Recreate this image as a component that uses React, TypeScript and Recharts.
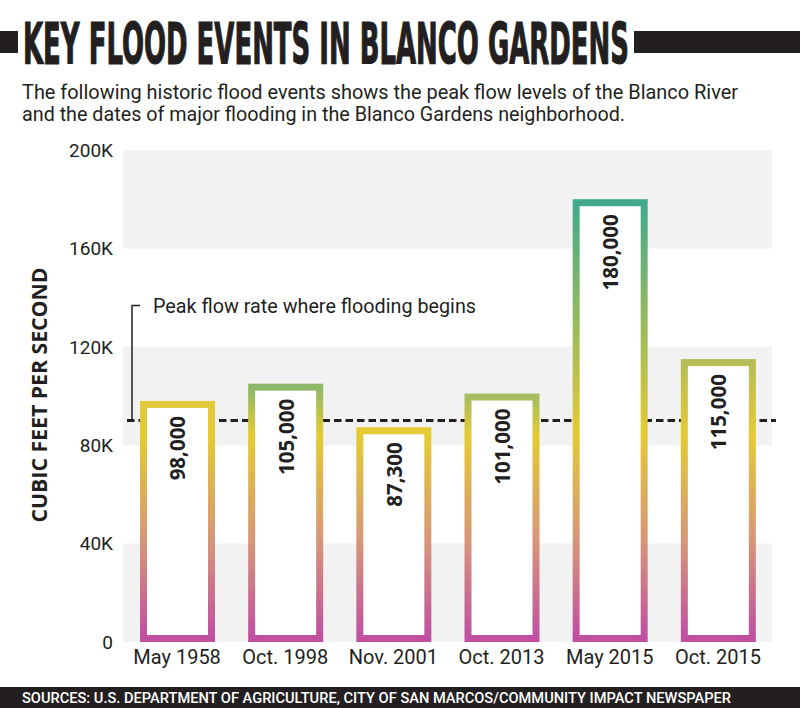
import React from 'react'
import { BarChart, Bar, XAxis, YAxis, ReferenceArea, ReferenceLine, LabelList } from 'recharts'

const events = ['May 1958', 'Oct. 1998', 'Nov. 2001', 'Oct. 2013', 'May 2015', 'Oct. 2015']
const peakFlow = [98000, 105000, 87300, 101000, 180000, 115000]
const yTicks = [0, 40000, 80000, 120000, 160000, 200000]
const floodLevel = 90000
const bandStarts = [0, 80000, 160000]
const bandSize = 40000

// top colour of each outline, the rest of the fade is shared
const TOP_COLORS = ['#e2c93a', '#8db86a', '#e4c935', '#a6bd60', '#43a98c', '#b6bc56']
const YELLOW = '#e5ca33'
const SALMON = '#d6957a'
const MAGENTA = '#c04fa2'
const INK = '#231f20'

const data = events.map((event, i) => ({ event, flow: peakFlow[i] }))

const fmtTick = (v: number) => (v === 0 ? '0' : `${v / 1000}K`)

// squeeze factor for the condensed headline
const TITLE_SCALE = 0.58

function OutlineBar(props: any) {
  const { x, y, width, height, index } = props
  const sw = 7
  if (!height || height < sw) return null
  return (
    <rect
      x={x + sw / 2}
      y={y + sw / 2}
      width={width - sw}
      height={height - sw}
      fill="#fff"
      stroke={`url(#flow-${index})`}
      strokeWidth={sw}
    />
  )
}

function ValueLabel(props: any) {
  const { x, y, width, value } = props
  const cx = x + width / 2
  const ty = y + 15
  return (
    <text
      x={cx}
      y={ty}
      transform={`rotate(-90 ${cx} ${ty})`}
      textAnchor="end"
      dominantBaseline="central"
      fontFamily="'Open Sans', sans-serif"
      fontWeight={700}
      fontSize={20.5}
      fill={INK}
    >
      {Number(value).toLocaleString('en-US')}
    </text>
  )
}

function ThresholdNote(props: any) {
  const vb = props.viewBox || {}
  const x = vb.x ?? 0
  const y = vb.y ?? 0
  return (
    <g>
      <path d={`M${x + 13} ${y - 115} H${x + 5} V${y}`} fill="none" stroke={INK} strokeWidth={1.5} />
      <text
        x={x + 26}
        y={y - 108}
        fontFamily="Roboto, sans-serif"
        fontSize={19.5}
        fill={INK}
        textLength={323}
        lengthAdjust="spacingAndGlyphs"
      >
        Peak flow rate where flooding begins
      </text>
    </g>
  )
}

export default function App() {
  return (
    <div style={{ position: 'absolute', left: 0, top: 0, width: 800, height: 708, background: '#fff' }}>
      <BarChart
        width={800}
        height={708}
        data={data}
        margin={{ top: 150, right: 24, bottom: 36, left: 57 }}
        barSize={75}
      >
        <defs>
          {peakFlow.map((v, i) => (
            <linearGradient key={i} id={`flow-${i}`} x1="0" y1="0" x2="0" y2="1">
              <stop offset={0} stopColor={TOP_COLORS[i]} />
              <stop offset={Math.max(0.001, 1 - 85000 / v)} stopColor={YELLOW} />
              <stop offset={1 - 40000 / v} stopColor={SALMON} />
              <stop offset={1} stopColor={MAGENTA} />
            </linearGradient>
          ))}
        </defs>
        {bandStarts.map((b) => (
          <ReferenceArea key={b} y1={b} y2={b + bandSize} fill="#f2f2f2" fillOpacity={1} stroke="none" zIndex={-200} />
        ))}
        <ReferenceLine
          y={floodLevel}
          stroke={INK}
          strokeWidth={3}
          strokeDasharray="7.5 4"
          label={<ThresholdNote />}
          zIndex={50}
        />
        <XAxis
          dataKey="event"
          axisLine={false}
          tickLine={false}
          tickSize={0}
          tickMargin={8}
          height={30}
          padding={{ left: -4, right: 4 }}
          tick={{ fill: INK, fontSize: 20, fontFamily: 'Roboto, sans-serif' }}
          interval={0}
        />
        <YAxis
          domain={[0, 200000]}
          ticks={yTicks}
          tickFormatter={fmtTick}
          axisLine={false}
          tickLine={false}
          tickSize={0}
          tickMargin={14}
          width={70}
          tick={{ fill: INK, fontSize: 19, fontFamily: 'Roboto, sans-serif' }}
        />
        <Bar dataKey="flow" shape={<OutlineBar />} isAnimationActive={false} zIndex={300}>
          <LabelList dataKey="flow" content={<ValueLabel />} />
        </Bar>
      </BarChart>

      <svg width={800} height={708} style={{ position: 'absolute', left: 0, top: 0, pointerEvents: 'none' }}>
        <rect x={0} y={31} width={18} height={22} fill={INK} />
        <g transform={`translate(23 64) scale(${TITLE_SCALE} 1)`}>
          <text
            x={0}
            y={0}
            fontFamily="'Liberation Sans Narrow', 'DejaVu Sans Condensed', sans-serif"
            fontWeight={700}
            fontSize={57}
            textLength={606 / TITLE_SCALE}
            lengthAdjust="spacingAndGlyphs"
            fill={INK}
            stroke={INK}
            strokeWidth={1.2}
          >
            KEY FLOOD EVENTS IN BLANCO GARDENS
          </text>
        </g>
        <rect x={634} y={31} width={166} height={22} fill={INK} />

        <text x={22} y={99} fontFamily="Roboto, sans-serif" fontSize={20.5} fill={INK} textLength={716} lengthAdjust="spacingAndGlyphs">
          The following historic flood events shows the peak flow levels of the Blanco River
        </text>
        <text x={22} y={121} fontFamily="Roboto, sans-serif" fontSize={20.5} fill={INK} textLength={603} lengthAdjust="spacingAndGlyphs">
          and the dates of major flooding in the Blanco Gardens neighborhood.
        </text>

        <text
          x={46.5}
          y={395}
          transform="rotate(-90 46.5 395)"
          textAnchor="middle"
          fontFamily="'Open Sans', sans-serif"
          fontWeight={700}
          fontSize={22}
          textLength={255}
          lengthAdjust="spacingAndGlyphs"
          fill={INK}
        >
          CUBIC FEET PER SECOND
        </text>

        <rect x={0} y={687} width={800} height={21} fill={INK} />
        <text x={22} y={703} fontFamily="Roboto, sans-serif" fontWeight={500} fontSize={15} fill="#fff" textLength={709} lengthAdjust="spacingAndGlyphs">
          SOURCES: U.S. DEPARTMENT OF AGRICULTURE, CITY OF SAN MARCOS/COMMUNITY IMPACT NEWSPAPER
        </text>
      </svg>
    </div>
  )
}
